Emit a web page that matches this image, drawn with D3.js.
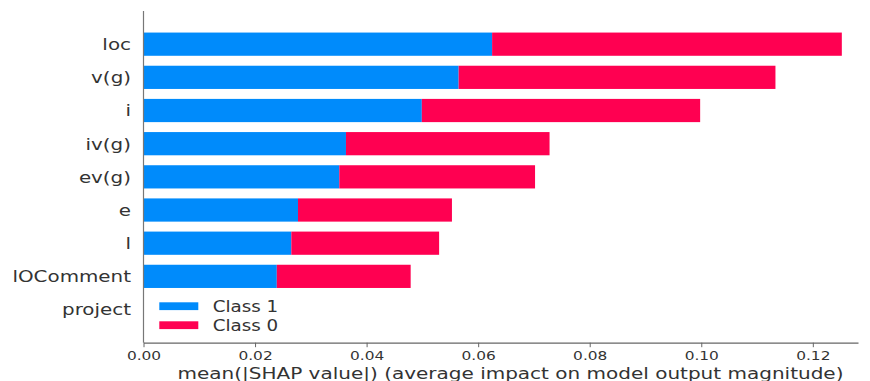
<!DOCTYPE html>
<html>
<head>
<meta charset="utf-8">
<script src="https://cdn.jsdelivr.net/npm/d3@7"></script>
<style>
  html, body { margin: 0; padding: 0; background: #fff; }
  svg { display: block; }
  text { font-family: "DejaVu Sans", sans-serif; fill: #333333; }
</style>
</head>
<body>
<svg id="chart" width="870" height="381"></svg>
<script>
// Features, most important first
const features = ["loc", "v(g)", "i", "iv(g)", "ev(g)", "e", "l", "lOComment", "project"];
// mean(|SHAP|) per class
const class1 = [0.0625, 0.0565, 0.0499, 0.0363, 0.0351, 0.0277, 0.0265, 0.0239, 0.0];
const class0 = [0.0627, 0.0568, 0.0499, 0.0365, 0.0351, 0.0276, 0.0265, 0.0240, 0.0];
const seriesNames = ["Class 1", "Class 0"];
const seriesColors = ["#008bfb", "#ff0051"];
const xTicks = [0.00, 0.02, 0.04, 0.06, 0.08, 0.10, 0.12];
const xLabel = "mean(|SHAP value|) (average impact on model output magnitude)";

const svg = d3.select("#chart");
const SX = 1.22; // horizontal text stretch

const x = d3.scaleLinear().domain([0, 0.1281]).range([143.5, 858]);
// row positions: bottom feature at 0, top at n-1, padded by one row
const n = features.length;
const y = d3.scaleLinear().domain([-1, n]).range([342.7, 11]);
const rowY = i => y(n - 1 - i);
const barH = y(0) - y(0.7);

const rows = features.map((f, i) => ({ f, i, a: class1[i], b: class0[i] }));

// stacked bars
const g = svg.append("g");
g.selectAll("rect.c1").data(rows).join("rect")
  .attr("x", x(0))
  .attr("y", d => rowY(d.i) - barH / 2)
  .attr("width", d => x(d.a) - x(0))
  .attr("height", barH)
  .attr("fill", seriesColors[0]);
g.selectAll("rect.c0").data(rows).join("rect")
  .attr("x", d => x(d.a))
  .attr("y", d => rowY(d.i) - barH / 2)
  .attr("width", d => x(d.a + d.b) - x(d.a))
  .attr("height", barH)
  .attr("fill", seriesColors[1]);

// feature labels
g.selectAll("text.feat").data(rows).join("text")
  .attr("transform", d => `translate(131,${rowY(d.i)}) scale(${SX},1)`)
  .attr("text-anchor", "end")
  .attr("dominant-baseline", "central")
  .style("font-size", "16.3px")
  .text(d => d.f);

// left spine
svg.append("line")
  .attr("x1", x(0)).attr("x2", x(0))
  .attr("y1", y(n)).attr("y2", y(-1))
  .attr("stroke", "#777").attr("stroke-width", 1.2);

// bottom axis
const ax = svg.append("g").attr("transform", `translate(0,${y(-1)})`)
  .call(d3.axisBottom(x).tickValues(xTicks).tickFormat(d3.format(".2f")).tickSize(4.5).tickSizeOuter(0));
ax.select(".domain").attr("stroke", "#666").attr("stroke-width", 1.3);
ax.selectAll(".tick line").attr("stroke", "#666").attr("stroke-width", 1);
ax.selectAll(".tick text")
  .attr("y", 0).attr("dy", 0)
  .attr("transform", `translate(0,12.6) scale(${SX},1)`)
  .attr("dominant-baseline", "central")
  .style("font-size", "12.6px")
  .style("font-family", "DejaVu Sans")
  .attr("fill", "#333");

// x axis title
svg.append("text")
  .attr("transform", `translate(510.5,372.8) scale(${SX},1)`)
  .attr("text-anchor", "middle")
  .attr("dominant-baseline", "central")
  .style("font-size", "16.4px")
  .text(xLabel);

// legend
const leg = svg.append("g");
seriesNames.forEach((name, k) => {
  const cy = 306.2 + k * 19;
  leg.append("rect")
    .attr("x", 159.3).attr("y", cy - 3.9)
    .attr("width", 39).attr("height", 7.8)
    .attr("fill", seriesColors[k]);
  leg.append("text")
    .attr("transform", `translate(212.7,${cy}) scale(${SX},1)`)
    .attr("dominant-baseline", "central")
    .style("font-size", "15px")
    .text(name);
});
</script>
</body>
</html>
